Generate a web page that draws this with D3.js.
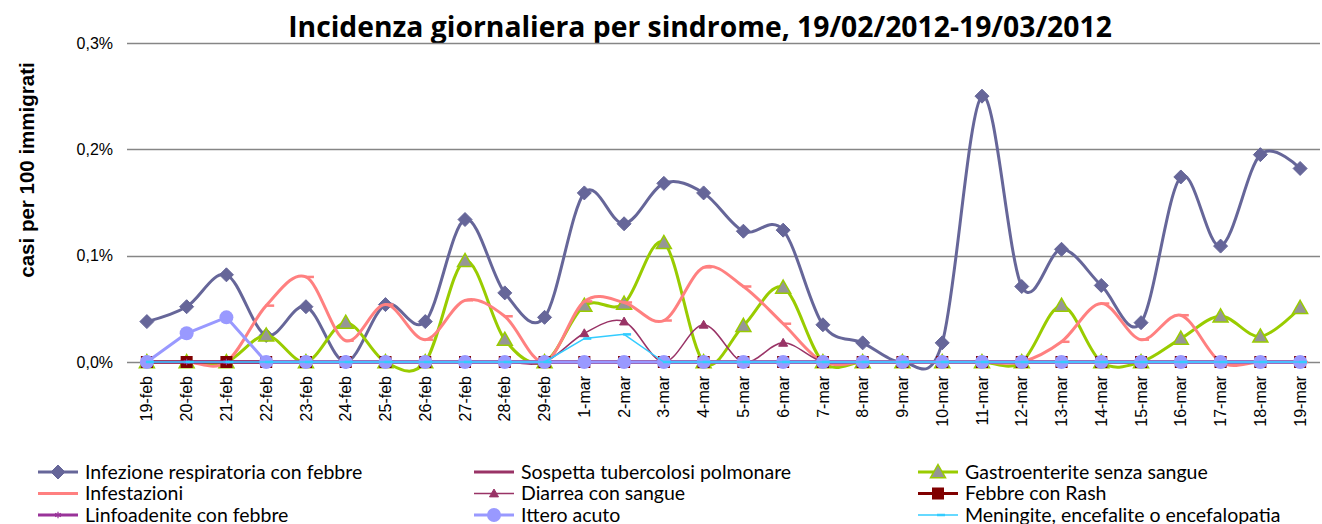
<!DOCTYPE html>
<html>
<head>
<meta charset="utf-8">
<script src="https://cdn.jsdelivr.net/npm/d3@7"></script>
<style>
  body { margin: 0; background: #fff; }
  svg { display: block; }
</style>
</head>
<body>
<div id="chart"></div>
<script>
'use strict';

// categories (days)
var days = ["19-feb","20-feb","21-feb","22-feb","23-feb","24-feb","25-feb","26-feb","27-feb","28-feb","29-feb",
  "1-mar","2-mar","3-mar","4-mar","5-mar","6-mar","7-mar","8-mar","9-mar","10-mar",
  "11-mar","12-mar","13-mar","14-mar","15-mar","16-mar","17-mar","18-mar","19-mar"];

var yTicks = [0, 0.1, 0.2, 0.3];
var yTickLabels = ["0,0%", "0,1%", "0,2%", "0,3%"];

// values in % (casi per 100 immigrati)
var infezione = [0.038,0.052,0.082,0.025,0.052,0,0.054,0.038,0.134,0.065,0.042,
  0.159,0.130,0.168,0.159,0.123,0.124,0.035,0.018,0,0.018,
  0.250,0.071,0.106,0.072,0.037,0.174,0.109,0.195,0.182];
var sospetta = days.map(function() { return 0; });
var gastro = [0,0,0,0.025,0,0.037,0,0,0.095,0.021,0,
  0.053,0.055,0.112,0,0.034,0.070,0,0,0,0,
  0,0,0.053,0,0,0.022,0.043,0.024,0.051];
var infestazioni = [0,0,0,0.053,0.080,0.020,0.054,0.021,0.058,0.043,0,
  0.057,0.056,0.039,0.089,0.071,0.036,0,0,0,0,
  0,0,0.019,0.055,0.021,0.044,0,0,0];
var diarrea = [0,0,0,0,0,0,0,0,0,0,0,
  0.027,0.038,0,0.035,0,0.018,0,0,0,0,
  0,0,0,0,0,0,0,0,0];
var febbre = days.map(function() { return 0; });
var linfo = days.map(function() { return 0; });
var ittero = [0,0.027,0.042,0,0,0,0,0,0,0,0,
  0,0,0,0,0,0,0,0,0,0,
  0,0,0,0,0,0,0,0,0];
var meningite = [0,0,0,0,0,0,0,0,0,0,0,
  0.022,0.026,0,0,0,0,0,0,0,0,
  0,0,0,0,0,0,0,0,0];

var series = [
  { name: "Infezione respiratoria con febbre", values: infezione, color: "#666699", width: 3, marker: "diamond", size: 14, fill: "#666699", smooth: true },
  { name: "Sospetta tubercolosi polmonare", values: sospetta, color: "#993366", width: 3, marker: "none", smooth: true },
  { name: "Gastroenterite senza sangue", values: gastro, color: "#99CC00", width: 3, marker: "triangle", size: 15, fill: "#969696", smooth: true },
  { name: "Infestazioni", values: infestazioni, color: "#FF8080", width: 3, marker: "dash", size: 9, fill: "#FF8080", smooth: true },
  { name: "Diarrea con sangue", values: diarrea, color: "#993366", width: 1.5, marker: "triangle", size: 9, fill: "#993366", smooth: true },
  { name: "Febbre con Rash", values: febbre, color: "#800000", width: 3, marker: "square", size: 12, fill: "#800000", smooth: false },
  { name: "Linfoadenite con febbre", values: linfo, color: "#993399", width: 3, marker: "star", size: 7, fill: "#993399", smooth: false },
  { name: "Ittero acuto", values: ittero, color: "#9999FF", width: 3, marker: "circle", size: 14, fill: "#9999FF", smooth: false },
  { name: "Meningite, encefalite o encefalopatia", values: meningite, color: "#33CCFF", width: 1.5, marker: "dash", size: 8, fill: "#33CCFF", smooth: false }
];

var svgWidth = 1322, svgHeight = 524;
var plot = { left: 127, right: 1320, top: 43, bottom: 362 };

var svg = d3.select("#chart").append("svg")
  .attr("width", svgWidth)
  .attr("height", svgHeight);

var x = d3.scaleBand()
  .domain(days)
  .range([plot.left, plot.right]);

var y = d3.scaleLinear()
  .domain([0, 0.3])
  .range([plot.bottom, plot.top]);

// title
svg.append("text")
  .attr("x", 700)
  .attr("y", 37)
  .attr("text-anchor", "middle")
  .style("font-family", "'Open Sans', sans-serif")
  .style("font-weight", "bold")
  .style("font-size", "28.3px")
  .text("Incidenza giornaliera per sindrome, 19/02/2012-19/03/2012");

// gridlines
svg.append("g")
  .selectAll("line")
  .data(yTicks)
  .join("line")
  .attr("x1", plot.left)
  .attr("x2", plot.right)
  .attr("y1", function(d) { return Math.round(y(d)) + 0.5; })
  .attr("y2", function(d) { return Math.round(y(d)) + 0.5; })
  .attr("stroke", "#868686")
  .attr("stroke-width", 1.3);

// y axis labels
var yAxis = d3.axisLeft(y)
  .tickValues(yTicks)
  .tickSize(0)
  .tickPadding(14)
  .tickFormat(function(d, i) { return yTickLabels[i]; });

var yAxisG = svg.append("g")
  .attr("transform", "translate(" + plot.left + ",0)")
  .call(yAxis);
yAxisG.select(".domain").remove();
yAxisG.selectAll("text")
  .style("font-family", "'Liberation Sans', Arial, sans-serif")
  .style("font-size", "16px")
  .attr("fill", "#000");

// x axis labels
var xAxis = d3.axisBottom(x).tickSize(0).tickPadding(0);
var xAxisG = svg.append("g")
  .attr("transform", "translate(0," + plot.bottom + ")")
  .call(xAxis);
xAxisG.select(".domain").remove();
xAxisG.selectAll("text")
  .attr("transform", "rotate(-90)")
  .attr("x", -14)
  .attr("y", 0)
  .attr("dy", "0.35em")
  .attr("text-anchor", "end")
  .style("font-family", "'Liberation Sans', Arial, sans-serif")
  .style("font-size", "16px")
  .attr("fill", "#000");

// y title
svg.append("text")
  .attr("transform", "translate(34,170) rotate(-90)")
  .attr("text-anchor", "middle")
  .style("font-family", "'Liberation Sans', Arial, sans-serif")
  .style("font-weight", "bold")
  .style("font-size", "20.5px")
  .text("casi per 100 immigrati");

function cx(i) { return x(days[i]) + x.bandwidth() / 2; }

function drawMarker(g, s, px, py) {
  var r = s.size / 2;
  if (s.marker === "diamond") {
    g.append("path")
      .attr("d", "M" + px + "," + (py - r) + "L" + (px + r) + "," + py + "L" + px + "," + (py + r) + "L" + (px - r) + "," + py + "Z")
      .attr("fill", s.fill).attr("stroke", s.color).attr("stroke-width", 1);
  } else if (s.marker === "triangle") {
    g.append("path")
      .attr("d", "M" + px + "," + (py - r) + "L" + (px + r) + "," + (py + r * 0.75) + "L" + (px - r) + "," + (py + r * 0.75) + "Z")
      .attr("fill", s.fill).attr("stroke", s.color).attr("stroke-width", s.size > 10 ? 1.5 : 1);
  } else if (s.marker === "square") {
    g.append("rect")
      .attr("x", px - r).attr("y", py - r)
      .attr("width", s.size).attr("height", s.size)
      .attr("fill", s.fill);
  } else if (s.marker === "circle") {
    g.append("circle")
      .attr("cx", px).attr("cy", py).attr("r", r)
      .attr("fill", s.fill);
  } else if (s.marker === "dash") {
    g.append("line")
      .attr("x1", px - 1).attr("x2", px - 1 + s.size)
      .attr("y1", py).attr("y2", py)
      .attr("stroke", s.fill).attr("stroke-width", 2.5);
  } else if (s.marker === "star") {
    g.append("path")
      .attr("d", d3.symbol(d3.symbolAsterisk || d3.symbolCross, 30)())
      .attr("transform", "translate(" + px + "," + py + ")")
      .attr("fill", "none").attr("stroke", s.fill).attr("stroke-width", 1.2);
  }
}

// series
var seriesG = svg.append("g");
series.forEach(function(s) {
  var g = seriesG.append("g");
  var line = d3.line()
    .x(function(d, i) { return cx(i); })
    .y(function(d) { return y(d); })
    .curve(s.smooth ? d3.curveCardinal.tension(0) : d3.curveLinear);
  g.append("path")
    .datum(s.values)
    .attr("fill", "none")
    .attr("stroke", s.color)
    .attr("stroke-width", s.width)
    .attr("stroke-linejoin", "round")
    .attr("d", line);
  if (s.marker !== "none") {
    s.values.forEach(function(v, i) {
      drawMarker(g, s, cx(i), y(v));
    });
  }
});

// legend
var legendCols = [38, 474, 918];
var legendRows = [472, 493.5, 515];
var legend = svg.append("g");
series.forEach(function(s, i) {
  var lx = legendCols[i % 3], ly = legendRows[Math.floor(i / 3)];
  var g = legend.append("g");
  g.append("line")
    .attr("x1", lx).attr("x2", lx + 40)
    .attr("y1", ly).attr("y2", ly)
    .attr("stroke", s.color)
    .attr("stroke-width", s.width);
  if (s.marker !== "none") {
    drawMarker(g, s, lx + 20, ly);
  }
  g.append("text")
    .attr("x", lx + 47)
    .attr("y", ly)
    .attr("dy", "0.35em")
    .style("font-family", "Lato, sans-serif")
    .style("font-size", "19.5px")
    .text(s.name);
});
</script>
</body>
</html>
